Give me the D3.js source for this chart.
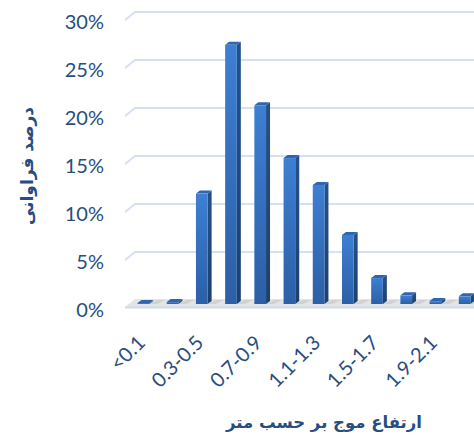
<!DOCTYPE html>
<html>
<head>
<meta charset="utf-8">
<script src="https://cdn.jsdelivr.net/npm/d3@7"></script>
<style>
  html, body { margin: 0; padding: 0; background: #fff; }
  svg { display: block; }
</style>
</head>
<body>
<svg id="chart" width="474" height="439"></svg>
<script>
// Wave-height classes (m) and their frequency share
const categories = ["<0.1", "0.1-0.3", "0.3-0.5", "0.5-0.7", "0.7-0.9", "0.9-1.1",
                    "1.1-1.3", "1.3-1.5", "1.5-1.7", "1.7-1.9", "1.9-2.1", "2.1-2.3"];
const frequency = [0.001, 0.002, 0.115, 0.270, 0.207, 0.152, 0.124, 0.072, 0.027, 0.009, 0.003, 0.008];
const shownLabels = ["<0.1", "0.3-0.5", "0.7-0.9", "1.1-1.3", "1.5-1.7", "1.9-2.1"];
const yTicks = [0, 0.05, 0.10, 0.15, 0.20, 0.25, 0.30];
const yTitle = "درصد فراوانی";
const xTitle = "ارتفاع موج بر حسب متر";

const W = 474, H = 439;
const svg = d3.select("#chart");
const textColor = "#284d80";

// depth of the 3D floor / walls, and of each column
const wallDx = 10, wallDy = 8;
const barDx = 4, barDy = 3;
const floorFront = 307, floorBack = 299;
const wallLeft = 125;

const x = d3.scaleBand().domain(categories).range([120, 488]).padding(0.6);
// scale at the back wall (gridlines) and at the column plane
const yBack = d3.scaleLinear().domain([0, 0.30]).range([300, 12]);
const yBar = d3.scaleLinear().domain([0, 0.30]).range([304, 16]);

const defs = svg.append("defs");
const gFront = defs.append("linearGradient").attr("id", "front")
  .attr("x1", 0).attr("y1", 0).attr("x2", 0).attr("y2", 1);
gFront.append("stop").attr("offset", "0%").attr("stop-color", "#3d7fd3");
gFront.append("stop").attr("offset", "100%").attr("stop-color", "#2c5fa6");
const gSide = defs.append("linearGradient").attr("id", "side")
  .attr("x1", 0).attr("y1", 0).attr("x2", 0).attr("y2", 1);
gSide.append("stop").attr("offset", "0%").attr("stop-color", "#24518a");
gSide.append("stop").attr("offset", "100%").attr("stop-color", "#1d406e");

// floor slab
svg.append("path")
  .attr("d", `M${wallLeft},${floorFront} L${wallLeft + wallDx},${floorBack} L${W + 20},${floorBack} L${W + 20},${floorFront} Z`)
  .attr("fill", "#e4e4e4");
svg.append("line")
  .attr("x1", wallLeft).attr("x2", W + 20)
  .attr("y1", floorFront + 0.5).attr("y2", floorFront + 0.5)
  .attr("stroke", "#cfdcee").attr("stroke-width", 2);

// gridlines on the back wall with their slanted left return
const grid = svg.append("g");
grid.selectAll("path.grid")
  .data(yTicks.filter(d => d > 0))
  .join("path")
  .attr("class", "grid")
  .attr("d", d => `M${wallLeft},${yBack(d) + wallDy} L${wallLeft + wallDx},${yBack(d)} L${W + 20},${yBack(d)}`)
  .attr("fill", "none")
  .attr("stroke", "#d6e2f3")
  .attr("stroke-width", 2.2);

// shadows cast on the floor by each column
svg.append("g").selectAll("path")
  .data(categories)
  .join("path")
  .attr("d", c => {
    const x0 = x(c) + x.bandwidth();
    return `M${x0},${floorFront - 3} L${x0 + 8},${floorBack + 1} L${x0 + 16},${floorBack + 1} L${x0 + 8},${floorFront - 3} Z`;
  })
  .attr("fill", "#c9c9c9").attr("opacity", 0.7);

// 3D columns
const bars = svg.append("g").selectAll("g")
  .data(categories.map((c, i) => ({ c, v: frequency[i] })))
  .join("g");
const base = yBar(0);
bars.append("path") // side face
  .attr("d", d => {
    const x1 = x(d.c) + x.bandwidth(), y1 = yBar(d.v);
    return `M${x1},${y1} L${x1 + barDx},${y1 - barDy} L${x1 + barDx},${base - barDy} L${x1},${base} Z`;
  })
  .attr("fill", "url(#side)");
bars.append("path") // top face
  .attr("d", d => {
    const x0 = x(d.c), x1 = x0 + x.bandwidth(), y1 = yBar(d.v);
    return `M${x0},${y1} L${x0 + barDx},${y1 - barDy} L${x1 + barDx},${y1 - barDy} L${x1},${y1} Z`;
  })
  .attr("fill", "#2f66ad");
bars.append("rect") // front face
  .attr("x", d => x(d.c))
  .attr("y", d => yBar(d.v))
  .attr("width", x.bandwidth())
  .attr("height", d => base - yBar(d.v))
  .attr("fill", "url(#front)");

// y axis labels
const yAxis = svg.append("g")
  .attr("transform", `translate(104, 10)`)
  .call(d3.axisLeft(yBack).tickValues(yTicks).tickFormat(d3.format(".0%")).tickSize(0).tickPadding(0));
yAxis.select(".domain").remove();
yAxis.selectAll("text")
  .attr("fill", textColor)
  .style("font-family", "Lato, 'Open Sans', sans-serif")
  .style("font-size", "20px");

// x axis labels (every other class)
const xAxis = svg.append("g")
  .attr("transform", `translate(0, 344)`)
  .call(d3.axisBottom(x).tickValues(shownLabels).tickSize(0).tickPadding(0));
xAxis.select(".domain").remove();
xAxis.selectAll("text")
  .attr("fill", textColor)
  .attr("text-anchor", "end")
  .attr("x", 0).attr("y", 0).attr("dy", 0)
  .attr("transform", "translate(3,0) rotate(-45)")
  .style("font-family", "Lato, 'Open Sans', sans-serif")
  .style("font-size", "20px");

// axis titles
svg.append("text")
  .attr("transform", "translate(28, 166) rotate(-90)")
  .attr("text-anchor", "middle")
  .attr("dominant-baseline", "middle")
  .attr("fill", textColor)
  .style("font-family", "'DejaVu Sans', sans-serif")
  .style("font-weight", "bold")
  .style("font-size", "17px")
  .attr("direction", "rtl")
  .text(yTitle);

svg.append("text")
  .attr("x", 324).attr("y", 423)
  .attr("text-anchor", "middle")
  .attr("dominant-baseline", "middle")
  .attr("fill", textColor)
  .style("font-family", "'DejaVu Sans', sans-serif")
  .style("font-weight", "bold")
  .style("font-size", "16.5px")
  .attr("direction", "rtl")
  .text(xTitle);
</script>
</body>
</html>
